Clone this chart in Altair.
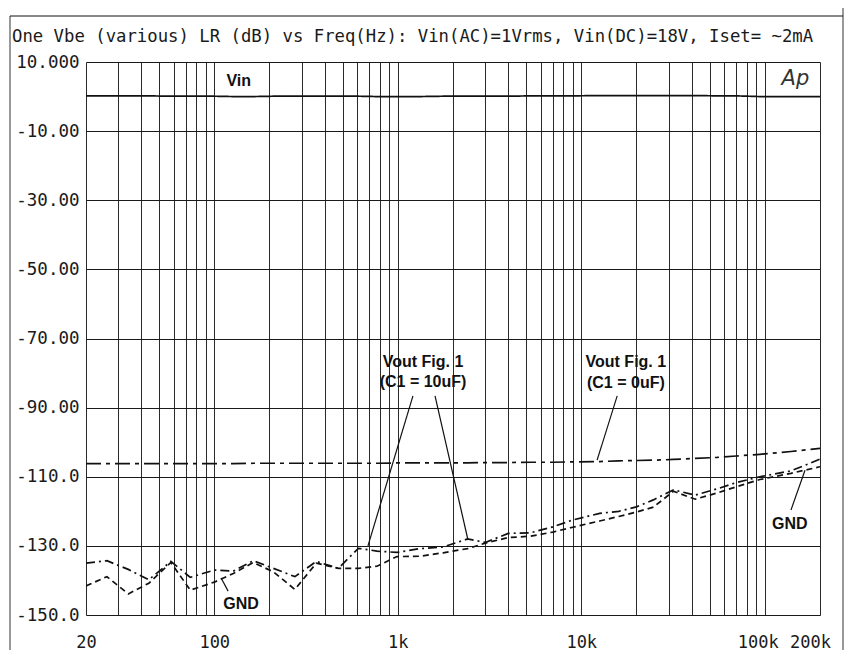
import altair as alt
import pandas as pd

# ---------------- data ----------------
freqs = [20, 26, 34, 44, 58, 74, 100, 127, 163, 210, 275, 360, 475, 610, 770, 990,
         1320, 1770, 2400, 3000, 4000, 5300, 7000, 9000, 12600, 16000, 20000, 24700,
         31800, 41800, 55000, 70000, 94000, 139000, 200000]

vin_db = [0.2, 0.2, 0.2, 0.2, 0.1, 0.1, 0.1, 0.0, 0.0, 0.1, 0.1, 0.1, 0.1, 0.1, 0.0, 0.0,
          0.0, 0.1, 0.1, 0.1, 0.1, 0.2, 0.2, 0.2, 0.3, 0.3, 0.3, 0.3,
          0.3, 0.3, 0.2, 0.2, 0.0, 0.0, 0.0]

vout_0uf_db = [-106.2, -106.2, -106.2, -106.2, -106.2, -106.2, -106.2, -106.2, -106.1, -106.1,
               -106.1, -106.1, -106.1, -106.1, -106.1, -106.0, -106.0, -106.0, -106.0, -105.9,
               -105.9, -105.8, -105.8, -105.7, -105.6, -105.4, -105.3, -105.2, -105.0, -104.7,
               -104.4, -104.0, -103.5, -102.7, -101.8]

vout_10uf_db = [-135.0, -134.3, -136.8, -139.8, -134.5, -139.1, -137.0, -137.3, -134.3, -136.5,
                -138.9, -134.5, -136.5, -130.7, -131.5, -131.9, -130.8, -130.3, -128.0, -129.0,
                -126.4, -126.2, -124.5, -122.5, -120.6, -120.0, -118.7, -116.7, -113.8, -115.3,
                -113.5, -111.7, -110.0, -108.3, -104.9]

gnd_db = [-141.6, -138.9, -143.9, -140.8, -134.8, -142.8, -140.5, -138.0, -134.8, -137.5,
          -142.6, -135.0, -136.5, -136.5, -135.9, -133.1, -133.0, -132.0, -130.8, -129.2,
          -127.6, -127.2, -126.0, -124.6, -122.8, -121.5, -120.2, -118.8, -114.2, -116.5,
          -114.7, -112.9, -110.8, -109.0, -107.1]

series_names = ["Vin", "Vout C1=0uF", "Vout C1=10uF", "GND"]
series_values = [vin_db, vout_0uf_db, vout_10uf_db, gnd_db]
dash_styles = [[1, 0], [15, 5, 4, 5], [9, 4, 2, 4], [6, 4]]

# axis ticks / labels
x_grid = [20, 30, 40, 50, 60, 70, 80, 90,
          100, 200, 300, 400, 500, 600, 700, 800, 900,
          1000, 2000, 3000, 4000, 5000, 6000, 7000, 8000, 9000,
          10000, 20000, 30000, 40000, 50000, 60000, 70000, 80000, 90000,
          100000, 200000]
x_label_values = [20, 100, 1000, 10000, 100000, 200000]
x_label_texts = ["20", "100", "1k", "10k", "100k", "200k"]

y_ticks = [10, -10, -30, -50, -70, -90, -110, -130, -150]
y_label_texts = ["10.000", "-10.00", "-30.00", "-50.00", "-70.00", "-90.00",
                 "-110.0", "-130.0", "-150.0"]

# annotations
ann_text = ["Vin", "Vout Fig. 1", "(C1 = 10uF)", "Vout Fig. 1", "(C1 = 0uF)", "GND", "GND"]
ann_freq = [136, 1373, 1373, 17500, 17500, 140, 137000]
ann_db = [4.5, -76.7, -82.6, -76.9, -82.8, -146.8, -123.7]

lead_f1 = [1210, 1596, 15700, 119, 139000]
lead_db1 = [-86.6, -86.6, -86.6, -143.1, -119.6]
lead_f2 = [688, 2414, 12200, 109, 165700]
lead_db2 = [-130.0, -128.3, -105.2, -139.3, -108.1]

logo_text = ["Ap"]
logo_freq = [147000]
logo_db = [3.4]

title_text = "One Vbe (various) LR (dB) vs Freq(Hz): Vin(AC)=1Vrms, Vin(DC)=18V, Iset= ~2mA"

# ---------------- build tables ----------------
rows = []
for name, vals in zip(series_names, series_values):
    for f, v in zip(freqs, vals):
        rows.append({"series": name, "freq": f, "db": v})
df = pd.DataFrame(rows)

ann_df = pd.DataFrame({"text": ann_text, "freq": ann_freq, "db": ann_db})
lead_df = pd.DataFrame({"f1": lead_f1, "d1": lead_db1, "f2": lead_f2, "d2": lead_db2})
logo_df = pd.DataFrame({"text": logo_text, "freq": logo_freq, "db": logo_db})
one_df = pd.DataFrame({"a": [0]})


def lookup_expr(values, texts):
    expr = "''"
    for v, t in reversed(list(zip(values, texts))):
        expr = f"abs(datum.value - ({v})) < 0.001 ? '{t}' : ({expr})"
    return expr


MONO = "DejaVu Sans Mono"
SANS = "Liberation Sans"

x_scale = alt.Scale(type="log", domain=[20, 200000], nice=False)
y_scale = alt.Scale(domain=[-150, 10], nice=False, zero=False)

x_axis = alt.Axis(values=x_grid, labelExpr=lookup_expr(x_label_values, x_label_texts),
                  grid=True, gridColor="#2a2a2a", gridWidth=1, gridOpacity=1,
                  ticks=False, domain=False, title=None, labelOverlap=False,
                  labelFlush=False,
                  labelOffset={"condition": [{"test": "datum.value > 150000", "value": -10},
                                             {"test": "datum.value > 50000", "value": -7}],
                               "value": 0},
                  labelFont=MONO, labelFontSize=17, labelColor="#1a1a1a",
                  labelPadding=19)
y_axis = alt.Axis(values=y_ticks, labelExpr=lookup_expr(y_ticks, y_label_texts),
                  grid=True, gridColor="#1a1a1a", gridWidth=1, gridOpacity=1,
                  ticks=False, domain=False, title=None, labelOverlap=False,
                  labelFlush=False,
                  labelFont=MONO, labelFontSize=17.5, labelColor="#1a1a1a",
                  labelPadding=7)

lines = alt.Chart(df).mark_line(color="#111", strokeWidth=1.7, clip=True).encode(
    x=alt.X("freq:Q", scale=x_scale, axis=x_axis),
    y=alt.Y("db:Q", scale=y_scale, axis=y_axis),
    strokeDash=alt.StrokeDash("series:N",
                              scale=alt.Scale(domain=series_names, range=dash_styles),
                              legend=None),
    detail="series:N",
)

leaders = alt.Chart(lead_df).mark_rule(color="#111", strokeWidth=1.2).encode(
    x=alt.X("f1:Q", scale=x_scale), x2="f2:Q",
    y=alt.Y("d1:Q", scale=y_scale), y2="d2:Q",
)

labels = alt.Chart(ann_df).mark_text(font=SANS, fontSize=16, fontWeight="bold",
                                     color="#111", align="center", baseline="middle").encode(
    x=alt.X("freq:Q", scale=x_scale),
    y=alt.Y("db:Q", scale=y_scale),
    text="text:N",
)

logo = alt.Chart(logo_df).mark_text(font="DejaVu Sans", fontSize=21, fontStyle="italic",
                                    fontWeight="normal", color="#333", align="center",
                                    baseline="alphabetic").encode(
    x=alt.X("freq:Q", scale=x_scale),
    y=alt.Y("db:Q", scale=y_scale),
    text="text:N",
)

title = alt.Chart(one_df).mark_text(text=title_text, font=MONO, fontSize=17.3,
                                    color="#1a1a1a", align="left", baseline="middle").encode(
    x=alt.value(-74), y=alt.value(-25))

frame_left = alt.Chart(one_df).mark_rule(color="#333", strokeWidth=1).encode(
    x=alt.value(-76), y=alt.value(-46), y2=alt.value(600))
frame_right = alt.Chart(one_df).mark_rule(color="#333", strokeWidth=1).encode(
    x=alt.value(757), y=alt.value(-54), y2=alt.value(600))
frame_top = alt.Chart(one_df).mark_rule(color="#111", strokeWidth=1).encode(
    x=alt.value(-76), x2=alt.value(757), y=alt.value(-46))

chart = alt.layer(lines, leaders, labels, logo, title, frame_left, frame_right, frame_top).properties(
    width=734,
    height=553,
    padding={"left": 78, "top": 54, "right": 24, "bottom": 35},
    autosize=alt.AutoSizeParams(type="none"),
).configure_view(stroke="#111", strokeWidth=1.2).configure(background="white")

chart.save("out.html", embed_options={"renderer": "svg", "actions": False})
